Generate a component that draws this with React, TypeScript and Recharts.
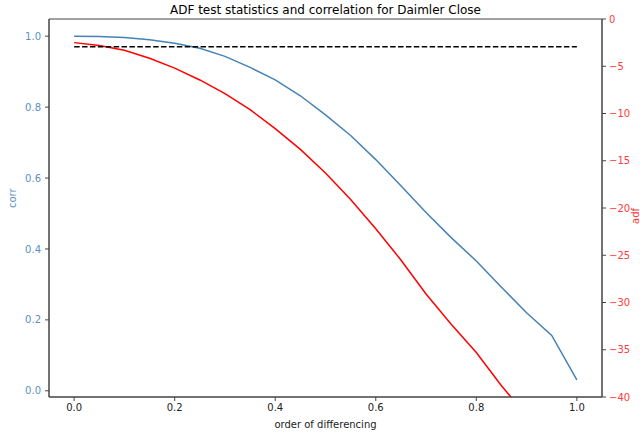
import React from 'react';
import { LineChart, Line, XAxis, YAxis, ReferenceLine, ReferenceArea } from 'recharts';

const diffOrders = [0, 0.05, 0.1, 0.15, 0.2, 0.25, 0.3, 0.35, 0.4, 0.45, 0.5, 0.55, 0.6, 0.65, 0.7, 0.75, 0.8, 0.85, 0.9, 0.95, 1.0];
const corrValues = [1.0, 0.999, 0.996, 0.99, 0.98, 0.966, 0.943, 0.912, 0.877, 0.832, 0.778, 0.72, 0.652, 0.578, 0.503, 0.432, 0.366, 0.292, 0.22, 0.156, 0.031];
const adfValues = [-2.5, -2.8, -3.3, -4.15, -5.2, -6.45, -7.9, -9.6, -11.6, -13.8, -16.3, -19.1, -22.2, -25.5, -29.1, -32.3, -35.3, -38.8, -42.0, -45.2, -48.5];
const CRITICAL_VALUE = -2.93;

const xTicks = [0, 0.2, 0.4, 0.6, 0.8, 1.0];
const corrTicks = [0, 0.2, 0.4, 0.6, 0.8, 1.0];
const adfTicks = [-40, -35, -30, -25, -20, -15, -10, -5, 0];

const data = diffOrders.map((d, i) => ({ d, corr: corrValues[i], adf: adfValues[i] }));

const BLUE = '#4682b4';
const BLUE_TEXT = '#5a90c6';
const RED = '#ff0000';
const RED_TEXT = '#ff3b3b';
const SPINE = '#444';
const FONT = 'DejaVu Sans';

const X_DOMAIN: [number, number] = [-0.05, 1.05];
const CORR_DOMAIN: [number, number] = [-0.0175, 1.0485];
const ADF_DOMAIN: [number, number] = [-40, 0];

const fmt1 = (v: number) => v.toFixed(1);
const fmtAdf = (v: number) => (v < 0 ? '\u2212' + Math.abs(v) : String(v));

export default function App() {
  return (
    <div style={{ position: 'absolute', left: 0, top: 0, width: 640, height: 432, fontFamily: FONT, background: '#fff' }}>
      <div
        style={{
          position: 'absolute',
          left: 49,
          top: 3,
          width: 553,
          textAlign: 'center',
          fontSize: 12,
          lineHeight: '14px',
          color: '#000',
          fontFamily: FONT,
        }}
      >
        ADF test statistics and correlation for Daimler Close
      </div>
      <LineChart width={640} height={432} data={data} margin={{ top: 19, right: 0, bottom: 0, left: 0 }}>
        <XAxis
          dataKey="d"
          type="number"
          domain={X_DOMAIN}
          allowDataOverflow
          ticks={xTicks}
          tickFormatter={fmt1}
          height={35}
          tickSize={4}
          tickMargin={3}
          axisLine={{ stroke: SPINE }}
          tickLine={{ stroke: SPINE }}
          tick={{ fill: '#222', fontSize: 10, fontFamily: FONT }}
          label={{ value: 'order of differencing', position: 'insideBottom', offset: 4, fill: '#222', fontSize: 10, fontFamily: FONT }}
        />
        <YAxis
          yAxisId="left"
          orientation="left"
          type="number"
          domain={CORR_DOMAIN}
          allowDataOverflow
          ticks={corrTicks}
          tickFormatter={fmt1}
          width={49}
          tickSize={4}
          tickMargin={4}
          axisLine={{ stroke: SPINE }}
          tickLine={{ stroke: SPINE }}
          tick={{ fill: BLUE_TEXT, fontSize: 10, fontFamily: FONT }}
          label={{ value: 'corr', angle: -90, position: 'insideLeft', offset: 12, fill: BLUE_TEXT, fontSize: 10, fontFamily: FONT }}
        />
        <YAxis
          yAxisId="right"
          orientation="right"
          type="number"
          domain={ADF_DOMAIN}
          allowDataOverflow
          ticks={adfTicks}
          tickFormatter={fmtAdf}
          width={38}
          tickSize={4}
          tickMargin={3}
          axisLine={{ stroke: SPINE }}
          tickLine={{ stroke: SPINE }}
          tick={{ fill: RED_TEXT, fontSize: 10, fontFamily: FONT }}
          label={{ value: 'adf', angle: -90, position: 'insideRight', offset: 5, fill: RED_TEXT, fontSize: 10, fontFamily: FONT }}
        />
        <ReferenceArea
          yAxisId="left"
          x1={X_DOMAIN[0]}
          x2={X_DOMAIN[1]}
          y1={CORR_DOMAIN[0]}
          y2={CORR_DOMAIN[1]}
          fill="none"
          fillOpacity={0}
          stroke={SPINE}
          strokeWidth={1}
          ifOverflow="visible"
        />
        <Line
          yAxisId="left"
          type="linear"
          dataKey="corr"
          stroke={BLUE}
          strokeWidth={1.5}
          dot={false}
          isAnimationActive={false}
        />
        <Line
          yAxisId="right"
          type="linear"
          dataKey="adf"
          stroke={RED}
          strokeWidth={1.5}
          dot={false}
          isAnimationActive={false}
        />
        <ReferenceLine
          yAxisId="right"
          segment={[{ x: diffOrders[0], y: CRITICAL_VALUE }, { x: diffOrders[diffOrders.length - 1], y: CRITICAL_VALUE }]}
          stroke="#000"
          strokeWidth={1.5}
          strokeDasharray="5.5 2.4"
        />
      </LineChart>
    </div>
  );
}
